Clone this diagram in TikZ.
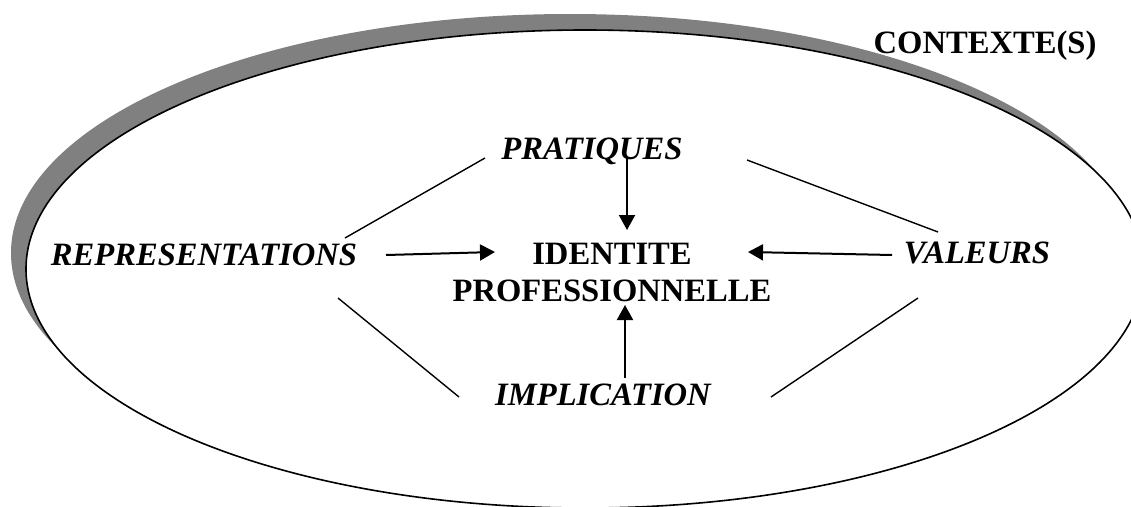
\documentclass[tikz,border=0pt]{standalone}
\usepackage{fontspec}
\setmainfont{Liberation Serif}
\usetikzlibrary{arrows.meta}
\definecolor{shadowgray}{HTML}{808080}
\begin{document}
\begin{tikzpicture}[x=1pt,y=-1pt,
  lbl/.style={font=\fontsize{32.6}{36.7}\selectfont\bfseries\itshape, anchor=base, inner sep=0pt},
  ctr/.style={font=\fontsize{32.6}{36.7}\selectfont\bfseries, anchor=base, inner sep=0pt, align=center},
  link/.style={line width=1.4pt},
  arr/.style={line width=2pt, -{Triangle[length=15pt,width=16pt]}}]
\useasboundingbox (0,0) rectangle (1131,506);
% context ellipse with shadow
\fill[shadowgray] (570,253) ellipse [x radius=559pt, y radius=239pt];
\filldraw[fill=white, draw=black, line width=1.6pt] (585,269) ellipse [x radius=559pt, y radius=239pt];
% labels
\node[ctr] (ctx) at (985,53) {CONTEXTE(S)};
\node[lbl] (prat) at (592,159) {PRATIQUES};
\node[lbl] (rep) at (204,265) {REPRESENTATIONS};
\node[lbl] (val) at (977,263) {VALEURS};
\node[lbl] (impl) at (603,405) {IMPLICATION};
\node[ctr] (id) at (612,301) {IDENTITE\\PROFESSIONNELLE};
% connector end points
\coordinate (rep-ne) at (345,238);
\coordinate (prat-w) at (485,158);
\coordinate (prat-e) at (747,160);
\coordinate (val-nw) at (938,232);
\coordinate (rep-se) at (338,298);
\coordinate (impl-w) at (459,397);
\coordinate (val-sw) at (918,298);
\coordinate (impl-e) at (771,397);
\coordinate (prat-s) at (627,158);
\coordinate (id-n) at (627,230);
\coordinate (rep-e) at (386,255);
\coordinate (id-w) at (495,252);
\coordinate (val-w) at (892,255);
\coordinate (id-e) at (748,252);
\coordinate (impl-n) at (625,378);
\coordinate (id-s) at (625,305);
% plain links
\draw[link] (rep-ne) -- (prat-w);
\draw[link] (prat-e) -- (val-nw);
\draw[link] (rep-se) -- (impl-w);
\draw[link] (val-sw) -- (impl-e);
% arrows
\draw[arr] (prat-s) -- (id-n);
\draw[arr] (rep-e) -- (id-w);
\draw[arr] (val-w) -- (id-e);
\draw[arr] (impl-n) -- (id-s);
\end{tikzpicture}
\end{document}
